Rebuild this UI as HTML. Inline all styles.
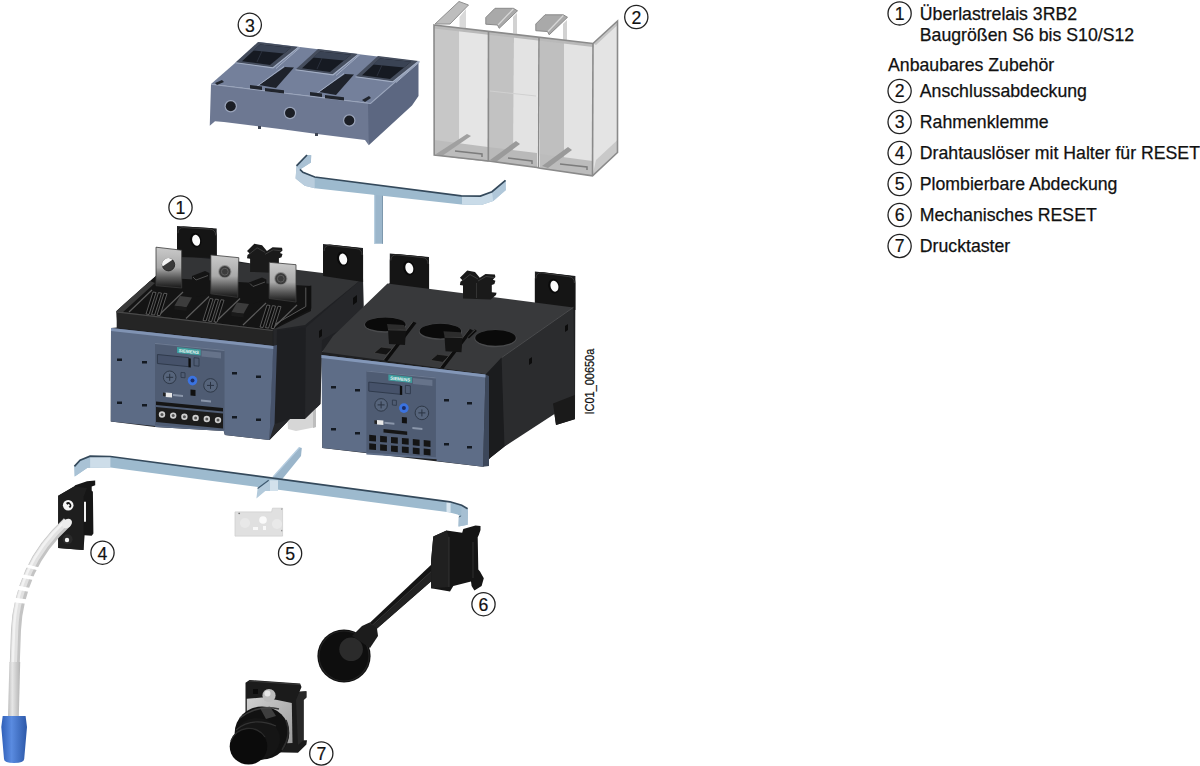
<!DOCTYPE html>
<html><head><meta charset="utf-8">
<style>
html,body{margin:0;padding:0;background:#fff;}
body{width:1200px;height:766px;overflow:hidden;position:relative;}
svg{position:absolute;left:0;top:0;}
.t{font-family:"Liberation Sans",sans-serif;font-size:17.7px;fill:#111;stroke:#111;stroke-width:0.25;}
.n{font-family:"Liberation Sans",sans-serif;font-size:17.7px;fill:#111;stroke:#111;stroke-width:0.2;text-anchor:middle;}
.c{fill:none;stroke:#222;stroke-width:1.3;}
</style></head>
<body>
<svg width="1200" height="766" viewBox="0 0 1200 766">
<defs>
  <linearGradient id="barg" x1="0" y1="0" x2="0" y2="1">
    <stop offset="0" stop-color="#6f93b3"/><stop offset="0.2" stop-color="#a9c6dd"/><stop offset="1" stop-color="#9dbcd5"/>
  </linearGradient>
</defs>

<!-- ============ LEGEND ============ -->
<!--S:legend--><g id="legend">
  <circle class="c" cx="899.6" cy="13.4" r="11.6"/><text class="n" x="899.6" y="19.5">1</text>
  <text class="t" x="919.8" y="19.5">Überlastrelais 3RB2</text>
  <text class="t" x="919.8" y="40.5">Baugrößen S6 bis S10/S12</text>
  <text class="t" x="888" y="70.7">Anbaubares Zubehör</text>
  <circle class="c" cx="899.6" cy="91" r="11.6"/><text class="n" x="899.6" y="97">2</text>
  <text class="t" x="919.8" y="97">Anschlussabdeckung</text>
  <circle class="c" cx="899.6" cy="122" r="11.6"/><text class="n" x="899.6" y="128">3</text>
  <text class="t" x="919.8" y="128">Rahmenklemme</text>
  <circle class="c" cx="899.6" cy="153" r="11.6"/><text class="n" x="899.6" y="159">4</text>
  <text class="t" x="919.8" y="159">Drahtauslöser mit Halter für RESET</text>
  <circle class="c" cx="899.6" cy="184" r="11.6"/><text class="n" x="899.6" y="190">5</text>
  <text class="t" x="919.8" y="190">Plombierbare Abdeckung</text>
  <circle class="c" cx="899.6" cy="215" r="11.6"/><text class="n" x="899.6" y="221">6</text>
  <text class="t" x="919.8" y="221">Mechanisches RESET</text>
  <circle class="c" cx="899.6" cy="246" r="11.6"/><text class="n" x="899.6" y="252">7</text>
  <text class="t" x="919.8" y="252">Drucktaster</text>
</g><!--E:legend-->

<!-- ============ ITEM 3 Rahmenklemme ============ -->
<!--S:item3--><g id="item3">
  <polygon points="211,84 370.5,103.2 418.5,61.6 259,42" fill="#74809b"/>
  <polygon points="211,84 370.5,103.2 368.75,145.25 365,140 317,134 284,129.5 260,126.5 224,122 215,121.25 209.75,125.75" fill="#6d7892"/>
  <polygon points="368,104 370.5,103.2 418.5,61.6 418.5,96 412,105.4 368.75,145.25" fill="#5c6781"/>
  <polyline points="211,84.3 370.5,103.5 418.5,61.9" fill="none" stroke="#9aa5bc" stroke-width="1.1"/>
  <polygon points="258.0,42.0 298.5,47.0 273.0,67.5 235.5,62.5" fill="#454d5d"/>
  <polygon points="260.0,44.5 291.0,47.8 270.0,65.0 242.0,61.2" fill="#161a22"/>
  <polygon points="260.0,44.5 291.0,47.8 284.0,53.5 253.0,50.5" fill="#3a4354"/>
  <line x1="262" y1="51" x2="257" y2="62" stroke="#2e3542" stroke-width="0.8"/>
  <polyline points="300.0,47.5 276.0,68.5" fill="none" stroke="#a3aec4" stroke-width="1"/>
  <polyline points="235.5,62.8 273.0,67.8 298.5,47.3" fill="none" stroke="#a3aec4" stroke-width="1.1"/>
  <polygon points="318.0,49.0 358.5,54.0 333.0,74.5 295.5,69.5" fill="#454d5d"/>
  <polygon points="320.0,51.5 351.0,54.8 330.0,72.0 302.0,68.2" fill="#161a22"/>
  <polygon points="320.0,51.5 351.0,54.8 344.0,60.5 313.0,57.5" fill="#3a4354"/>
  <line x1="322" y1="58" x2="317" y2="69" stroke="#2e3542" stroke-width="0.8"/>
  <polyline points="360.0,54.5 336.0,75.5" fill="none" stroke="#a3aec4" stroke-width="1"/>
  <polyline points="295.5,69.8 333.0,74.8 358.5,54.3" fill="none" stroke="#a3aec4" stroke-width="1.1"/>
  <polygon points="378.0,56.0 418.5,61.0 393.0,81.5 355.5,76.5" fill="#454d5d"/>
  <polygon points="380.0,58.5 411.0,61.8 390.0,79.0 362.0,75.2" fill="#161a22"/>
  <polygon points="380.0,58.5 411.0,61.8 404.0,67.5 373.0,64.5" fill="#3a4354"/>
  <line x1="382" y1="65" x2="377" y2="76" stroke="#2e3542" stroke-width="0.8"/>
  <polyline points="420.0,61.5 396.0,82.5" fill="none" stroke="#a3aec4" stroke-width="1"/>
  <polyline points="355.5,76.8 393.0,81.8 418.5,61.3" fill="none" stroke="#a3aec4" stroke-width="1.1"/>
  <polygon points="259.0,85.0 285.0,67.0 294.0,67.5 276.0,88.0" fill="#1e222b"/>
  <line x1="256" y1="87" x2="284" y2="66.5" stroke="#a3aec4" stroke-width="1"/>
  <polygon points="250.0,85.0 262.0,86.5 262.0,90.0 250.0,88.5" fill="#20242c"/>
  <polygon points="265.0,88.0 284.0,90.3 284.0,93.5 265.0,91.2" fill="#20242c"/>
  <polygon points="319.0,92.0 345.0,74.0 354.0,74.5 336.0,95.0" fill="#1e222b"/>
  <line x1="316" y1="94" x2="344" y2="73.5" stroke="#a3aec4" stroke-width="1"/>
  <polygon points="310.0,92.0 322.0,93.5 322.0,97.0 310.0,95.5" fill="#20242c"/>
  <polygon points="325.0,95.0 344.0,97.3 344.0,100.5 325.0,98.2" fill="#20242c"/>
  <polygon points="215,83 222,80 224,82 217,85" fill="#20242c"/>
  <polygon points="362,100 369,96 371,98 365,102" fill="#20242c"/>
  <circle cx="230.75" cy="106.25" r="6.2" fill="#9aa4ba"/><circle cx="230.75" cy="106.25" r="5" fill="#1b1e25"/>
  <circle cx="290" cy="113" r="6.2" fill="#9aa4ba"/><circle cx="290" cy="113" r="5" fill="#1b1e25"/>
  <circle cx="349.25" cy="120.5" r="6.2" fill="#9aa4ba"/><circle cx="349.25" cy="120.5" r="5" fill="#1b1e25"/>
  <g fill="#3e4554"><rect x="258" y="126" width="3" height="3"/><rect x="315" y="133" width="3" height="3"/></g>
</g><!--E:item3-->

<!-- ============ ITEM 2 cover ============ -->
<!--S:item2--><g id="item2">
  <!-- flaps -->
  <polygon points="435,24 459,1.5 468.5,5 450,24" fill="#bdbdbd" stroke="#8e8e8e" stroke-width="1"/>
  <polygon points="459.5,17 466,9 466,28 459.5,27" fill="#d9d9d9"/>
  <polygon points="485.8,17.5 495,8.3 513.3,8.3 517.5,10.8 499.2,28.3 497.5,25 485.8,24.2" fill="#a9a9a9" stroke="#8a8a8a" stroke-width="1"/>
  <line x1="513.3" y1="9" x2="498" y2="25" stroke="#d8d8d8" stroke-width="1.2"/>
  <polygon points="513,17 517,13 517,34 513,33" fill="#d2d2d2"/>
  <polygon points="535.8,24 545,14.8 563.3,14.8 567.5,17.3 549.2,34.8 547.5,31.5 535.8,30.7" fill="#a9a9a9" stroke="#8a8a8a" stroke-width="1"/>
  <line x1="563.3" y1="15.5" x2="548" y2="31.5" stroke="#d8d8d8" stroke-width="1.2"/>
  <polygon points="563,24 567,20 567,41 563,40" fill="#d2d2d2"/>
  <!-- right face -->
  <polygon points="593,43.5 617.5,21 617.5,152.5 592.5,175.8" fill="#e4e4e4"/>
  <polygon points="593,43.5 617.5,21 617.5,25 596,45" fill="#c4c4c4"/>
  <polygon points="596,160 617.5,140 617.5,152.5 592.5,175.8" fill="#c9c9c9"/>
  <!-- columns -->
  <polygon points="434,25 459.5,28 459.5,158.5 434.2,155" fill="#c7c7c7"/>
  <polygon points="459.5,28 489,31.5 488,161.7 459.5,158.5" fill="#e5e5e5"/>
  <polygon points="489,31.5 514,34.5 513.5,164.5 488.5,161" fill="#c2c2c2"/>
  <polygon points="514,34.5 538.5,37.5 537,167.5 513.5,164.5" fill="#e3e3e3"/>
  <polygon points="539.5,37.5 564,40.5 564,171 540,168.3" fill="#bfbfbf"/>
  <polygon points="564,40.5 593,43.5 592.5,175.8 564,171" fill="#e3e3e3"/>
  <!-- top band -->
  <polygon points="434,25 593,43.5 593,47 434,28.5" fill="#b9b9b9"/>
  <!-- bottom trays -->
  <polygon points="434.2,140 488,147 488,161.7 434.2,155" fill="#bcbcbc"/>
  <polygon points="488.5,147 537,153 537,167.5 488.5,161" fill="#b9b9b9"/>
  <polygon points="540,154 592.5,161 592.5,175.8 540,168.3" fill="#bcbcbc"/>
  <polygon points="436,154 467,134 471,136 442,156" fill="#a0a0a0"/>
  <polygon points="490,160 516,141 520,144 496,162" fill="#9a9a9a"/>
  <polygon points="542,166 568,147 572,150 548,168" fill="#9a9a9a"/>
  <polyline points="455,151 482,154 482,157" fill="none" stroke="#7c7c7c" stroke-width="1.5"/>
  <polyline points="508,158 532,161 532,164" fill="none" stroke="#7c7c7c" stroke-width="1.5"/>
  <polyline points="560,164 587,167 587,170" fill="none" stroke="#7c7c7c" stroke-width="1.5"/>
  <!-- lines -->
  <g fill="none" stroke="#8a8a8a" stroke-width="1.6">
    <polygon points="434,25 593,43.5 617.5,21 617.5,152.5 592.5,175.8 540,168.3 537,167.5 488.5,161 434.2,155"/>
    <line x1="488.5" y1="31" x2="488.3" y2="161.5"/>
    <line x1="539" y1="37" x2="538.5" y2="168"/>
    <line x1="593" y1="43.5" x2="592.5" y2="175.8"/>
  </g>
  <line x1="490" y1="91" x2="536" y2="96" stroke="#d0d0d0" stroke-width="1"/>
</g><!--E:item2-->

<!-- ============ T bar ============ -->
<!--S:tbar--><g id="tbar">
  <polygon points="374.1,192 383,193 383,243.7 374.1,243.7" fill="#9bb6cb"/>
  <line x1="374.6" y1="195" x2="374.6" y2="243.7" stroke="#b8cfe0" stroke-width="1.2"/>
  <line x1="382.5" y1="195" x2="382.5" y2="243.7" stroke="#7d98ad" stroke-width="1"/>
  <polygon points="307,155 311.2,155.3 310.9,162.6 300,169.4 302.9,172.3 314.7,177 461.3,195.8 480.3,196.1 492,191.7 505.5,180.3 505.8,190 493.2,201.1 481.4,205 461.3,204.6 314.7,188.2 304.7,185.8 295.6,178.6 296.5,165.9" fill="#9dbace"/>
  <polygon points="300,169.4 302.9,172.3 314.7,177 314.7,188.2 304.7,185.8 295.6,178.6 296.5,165.9" fill="#b9cddd"/>
  <polygon points="307,155 311.2,155.3 310.9,162.6 300,169.4 296.5,165.9" fill="#a9c1d4"/>
  <polygon points="462,195.8 480.3,196.1 492,191.7 505.5,180.3 505.8,190 493.2,201.1 481.4,205 462,204.6" fill="#c9dbe8"/>
  <polygon points="492,191.7 505.5,180.3 505.8,190 493.2,201.1" fill="#b0c7d9"/>
  <polyline points="307,155 296.5,165.9" fill="none" stroke="#34495b" stroke-width="1.7"/>
  <polyline points="300,169.4 302.9,172.3 314.7,177 461.3,195.8 480.3,196.1 492,191.7 505.5,180.3" fill="none" stroke="#34495b" stroke-width="1.7"/>
</g><!--E:tbar-->

<!-- ============ Left relay ============ -->
<!--S:relayL--><g id="relayL">
  <polygon points="116.7,311.3 154.6,277 177,255 177,226 216.7,228.5 216.7,258 323,275 323,244 363,248 363,316 389,283 322,352 320.4,404 305,419 290,419 269.5,440 224.9,435 223.75,431 155.1,427 110.8,421.5 111,328 116.7,327.5" fill="#202124"/>
  <!-- body top + side -->
  <polygon points="177,255 363,278 305,325 273,330 116.75,311.2 154.6,277.2" fill="#333436"/>
  <polygon points="287,412 316,405 316,427 296,431 288,429" fill="#d6d6d6"/>
  <polygon points="313,406 316,405 316,427 313,428" fill="#bdbdbd"/>
  <polygon points="273.5,330 305.8,327.4 363,278 364,316 322,340 320.4,404 305,419 290,419 269.5,440 274.5,424" fill="#26272a"/>
  <polygon points="277,330 305.8,327.4 305,419 290,419 274.5,424" fill="#1e1f22"/>
  <polygon points="353,298 357,295 357,302 353,305" fill="#0c0c0c"/>
  <polygon points="319,331 322,329 322,336 319,338" fill="#0c0c0c"/>
  
  <!-- tabs -->
  <path d="M177,257 L177,233.2 Q177,226.2 184,226.6 L209.7,228.1 Q216.7,228.5 216.7,235.5 L216.7,258 Z" fill="#151515"/>
  <path d="M178,233.2 Q178,227.2 184,227.6 L209.7,229.1 Q215.7,229.5 215.7,235.5" fill="none" stroke="#3a3a3a" stroke-width="1"/>
  <ellipse cx="195.7" cy="240.2" rx="5.6" ry="7.4" fill="#0a0a0a" transform="rotate(-15 195.7 240.2)"/>
  <ellipse cx="196.1" cy="240.39999999999998" rx="3.9" ry="5.6" fill="#fbfbfb" transform="rotate(-15 195.7 240.2)"/>
  <path d="M323.1,276 L323.1,251.1 Q323.1,244.1 330.1,244.5 L356.1,247.6 Q363.1,248 363.1,255 L363.1,282 Z" fill="#151515"/>
  <path d="M324.1,251.1 Q324.1,245.1 330.1,245.5 L356.1,248.6 Q362.1,249 362.1,255" fill="none" stroke="#3a3a3a" stroke-width="1"/>
  <ellipse cx="342.7" cy="259" rx="5.6" ry="7.4" fill="#0a0a0a" transform="rotate(-15 342.7 259)"/>
  <ellipse cx="343.09999999999997" cy="259.2" rx="3.9" ry="5.6" fill="#fbfbfb" transform="rotate(-15 342.7 259)"/>
  <!-- clip -->
  <polygon points="247.0,251.0 254.3,243.7 262.1,245.2 266.9,251.0 272.6,247.3 282.0,247.8 282.5,250.4 279.9,253.1 282.5,254.1 281.5,257.3 278.9,258.3 278.9,265.6 283.6,266.1 283.1,268.2 277.8,272.9 250.1,271.9 250.1,258.8 247.0,258.3 247.5,255.1 249.6,253.6" fill="#1a1a1a"/>
  <polyline points="249.1,254.3 257.1,247.8 265.1,252.3" fill="none" stroke="#3c3c3c" stroke-width="1"/>
  <polyline points="265.1,254.3 273.1,249.8 281.1,250.8" fill="none" stroke="#3c3c3c" stroke-width="1"/>
  <!-- tray -->
  <polygon points="116.3,311.3 154.6,277.2 311,286 311,311 272.7,330" fill="#141414"/>
  <polygon points="116.3,311.3 124,304 150,281 155,283 122,313" fill="#3a3a3a"/>
  <polygon points="271,325.5 305.8,306 305.8,287 311.3,285.5 311.3,308.5 271,330" fill="#101010"/>
  <polyline points="272,326 305.8,306.5 305.8,287.5" fill="none" stroke="#5a5a5a" stroke-width="1"/>
  <g stroke="#5c5c5c" stroke-width="1.2" fill="none">
    <line x1="129" y1="312.0" x2="152" y2="290.0"/>
    <line x1="158" y1="316.0" x2="183" y2="292.0"/>
    <line x1="186" y1="318.5" x2="209" y2="296.5"/>
    <line x1="215" y1="322.5" x2="240" y2="298.5"/>
    <line x1="243" y1="325.0" x2="266" y2="303.0"/>
    <line x1="272" y1="329.0" x2="297" y2="305.0"/>
  </g>
  <polygon points="146.0,314.0 153.0,292.0 156.0,292.5 149.0,314.5" fill="#0c0c0c" stroke="#6a6a6a" stroke-width="0.8"/>
  <polygon points="151.5,314.6 158.5,292.6 161.5,293.1 154.5,315.1" fill="#0c0c0c" stroke="#6a6a6a" stroke-width="0.8"/>
  <polygon points="157.0,315.2 164.0,293.2 167.0,293.7 160.0,315.7" fill="#0c0c0c" stroke="#6a6a6a" stroke-width="0.8"/>
  <polygon points="203.0,320.5 210.0,298.5 213.0,299.0 206.0,321.0" fill="#0c0c0c" stroke="#6a6a6a" stroke-width="0.8"/>
  <polygon points="208.5,321.1 215.5,299.1 218.5,299.6 211.5,321.6" fill="#0c0c0c" stroke="#6a6a6a" stroke-width="0.8"/>
  <polygon points="214.0,321.7 221.0,299.7 224.0,300.2 217.0,322.2" fill="#0c0c0c" stroke="#6a6a6a" stroke-width="0.8"/>
  <polygon points="260.0,327.0 267.0,305.0 270.0,305.5 263.0,327.5" fill="#0c0c0c" stroke="#6a6a6a" stroke-width="0.8"/>
  <polygon points="265.5,327.6 272.5,305.6 275.5,306.1 268.5,328.1" fill="#0c0c0c" stroke="#6a6a6a" stroke-width="0.8"/>
  <polygon points="271.0,328.2 278.0,306.2 281.0,306.7 274.0,328.7" fill="#0c0c0c" stroke="#6a6a6a" stroke-width="0.8"/>
  <polygon points="174.4,305.8 180,296.0 192,297.5 186.5,307.3" fill="#3c3c3c"/>
  <polygon points="174.4,305.8 186.5,307.3 186.5,311.0 174.4,309.5" fill="#1a1a1a"/>
  <polygon points="192.0,276.0 205.0,271.0 209.4,273.0 209.4,294.0 196.0,297.0 192.0,295.0" fill="#141414"/><polyline points="193.0,277.0 196.0,280.0 208.0,275.5" fill="none" stroke="#555" stroke-width="0.9"/>
  <polygon points="231.4,312.3 237,302.5 249,304.0 243.5,313.8" fill="#3c3c3c"/>
  <polygon points="231.4,312.3 243.5,313.8 243.5,317.5 231.4,316.0" fill="#1a1a1a"/>
  <polygon points="249.0,282.5 262.0,277.5 266.4,279.5 266.4,300.5 253.0,303.5 249.0,301.5" fill="#141414"/><polyline points="250.0,283.5 253.0,286.5 265.0,282.0" fill="none" stroke="#555" stroke-width="0.9"/>
  <polygon points="116.3,311.3 272.7,330 272.7,345 117.5,327.7" fill="#252525"/>
  <line x1="116.3" y1="311.8" x2="272.7" y2="330.5" stroke="#4a4a4a" stroke-width="1.2"/>
  <!-- plates -->
  <defs>
    <linearGradient id="plg" x1="0" y1="0" x2="0" y2="1">
      <stop offset="0" stop-color="#cacaca"/><stop offset="0.5" stop-color="#a9a9a9"/><stop offset="0.75" stop-color="#5a5a5a"/><stop offset="1" stop-color="#161616"/>
    </linearGradient>
  </defs>
  <polygon points="156,247.2 181.7,250.2 181.7,288 156,285.7" fill="url(#plg)" stroke="#3a3a3a" stroke-width="0.8"/>
  <circle cx="168.5" cy="264.7" r="6.2" fill="#3a3a3a" stroke="#1a1a1a" stroke-width="0.8"/><path d="M162.5,266.5 A6.2,6.2 0 0 1 172.5,259.8 Z" fill="#f4f4f4"/>
  <polygon points="210.8,254.9 238.8,257.7 237.7,297.3 210.8,293.8" fill="url(#plg)" stroke="#3a3a3a" stroke-width="0.8"/>
  <circle cx="224.8" cy="271.7" r="6.6" fill="#8a8a8a"/><circle cx="224.8" cy="271.7" r="5.6" fill="#3c3c3c"/><circle cx="224.8" cy="271.7" r="3.4" fill="none" stroke="#5e5e5e" stroke-width="1"/>
  <polygon points="269.2,262.3 296,264.7 296,302 269.2,298.5" fill="url(#plg)" stroke="#3a3a3a" stroke-width="0.8"/>
  <circle cx="280.8" cy="278.7" r="6.6" fill="#8a8a8a"/><circle cx="280.8" cy="278.7" r="5.6" fill="#3c3c3c"/><circle cx="280.8" cy="278.7" r="3.4" fill="none" stroke="#5e5e5e" stroke-width="1"/>
  <!-- blue front -->
  <polygon points="272.8,346 277,345 274.5,424 269.5,440" fill="#46526a"/>
  <polygon points="111,328 273.3,346 269.5,440 224.9,435 223.75,431 155.1,427 155.1,426 110.8,421.5" fill="#5c6b85"/>
  <polygon points="111,328 273.3,346 273.3,349 111,331" fill="#8093b3"/>
  <!--MODL-->
  <polygon points="155.0,342.8 224.5,349.8 224.5,430.2 155.0,425.3" fill="#4f5c73"/>
  <polygon points="155.0,342.8 224.5,349.8 224.5,350.9 155.0,344.0" fill="#6a7890"/>
  <polygon points="177.0,347.0 200.7,349.4 200.7,355.4 177.0,353.0" fill="#3f9c9c"/>
  <text x="0" y="0" transform="translate(178.5,352.1) rotate(5.7)" style="font-family:'Liberation Sans',sans-serif;font-size:4.5px;fill:#e8f4f4;font-weight:bold">SIEMENS</text>
  <polygon points="201.5,350.4 221.0,352.4 221.0,358.4 201.5,356.4" fill="#66738a"/>
  <polygon points="157.4,354.5 189.0,357.7 189.0,366.7 157.4,363.5" fill="#46526a" stroke="#2f3a4c" stroke-width="1"/>
  <polygon points="188.5,358.2 190.8,358.4 190.8,367.4 188.5,367.2" fill="#0e0e0e"/>
  <polygon points="194.0,357.7 199.0,358.2 199.0,366.2 194.0,365.7" fill="none" stroke="#2f3a4c" stroke-width="0.9"/>
  <polygon points="181.0,372.4 185.0,372.8 185.0,377.8 181.0,377.4" fill="none" stroke="#2f3a4c" stroke-width="0.9"/>
  <circle cx="169.7" cy="377.3" r="6.3" fill="#56647b" stroke="#2e3847" stroke-width="1"/>
  <path d="M166.2,377.3 H173.2 M169.7,373.8 V380.8" stroke="#2a3342" stroke-width="1"/>
  <circle cx="210.5" cy="385.4" r="6.8" fill="#56647b" stroke="#2e3847" stroke-width="1"/>
  <path d="M207.0,385.4 H214.0 M210.5,381.9 V388.9" stroke="#2a3342" stroke-width="1"/>
  <circle cx="192.5" cy="380.6" r="4.8" fill="#3b73e0"/><circle cx="192.5" cy="380.6" r="2" fill="#1b2d66"/>
  <polygon points="190.5,389.4 195.5,389.9 195.5,395.9 190.5,395.4" fill="#111"/>
  <polygon points="165.6,392.4 172.0,393.0 172.0,397.5 165.6,396.9" fill="#e8e8e8"/>
  <polygon points="163.0,392.6 165.6,392.9 165.6,396.4 163.0,396.1" fill="#222"/>
  <polygon points="173.0,394.1 183.0,395.1 183.0,397.1 173.0,396.1" fill="#8a96aa"/>
  <polygon points="201.0,399.4 211.0,400.4 211.0,402.4 201.0,401.4" fill="#8a96aa"/>
  <polygon points="156.0,401.4 223.0,408.1 223.0,411.6 156.0,404.9" fill="#151515"/>
  <polygon points="156.0,406.9 223.0,413.6 223.0,428.6 156.0,421.9" fill="#1c1c1c"/>
  <circle cx="162.0" cy="414.5" r="3.2" fill="#cfcfcf"/><circle cx="162.0" cy="414.5" r="1.5" fill="#555"/>
  <circle cx="173.2" cy="415.6" r="3.2" fill="#cfcfcf"/><circle cx="173.2" cy="415.6" r="1.5" fill="#555"/>
  <circle cx="184.4" cy="416.7" r="3.2" fill="#cfcfcf"/><circle cx="184.4" cy="416.7" r="1.5" fill="#555"/>
  <circle cx="195.6" cy="417.9" r="3.2" fill="#cfcfcf"/><circle cx="195.6" cy="417.9" r="1.5" fill="#555"/>
  <circle cx="206.8" cy="419.0" r="3.2" fill="#cfcfcf"/><circle cx="206.8" cy="419.0" r="1.5" fill="#555"/>
  <circle cx="218.0" cy="420.1" r="3.2" fill="#cfcfcf"/><circle cx="218.0" cy="420.1" r="1.5" fill="#555"/>
  <!--/MODL-->
  <g fill="#141a22">
    <rect x="117" y="358.5" width="5" height="2.5"/><rect x="142" y="361" width="5" height="2.5"/>
    <rect x="117" y="401.5" width="5" height="2.5"/><rect x="142" y="404" width="5" height="2.5"/>
    <rect x="232" y="372" width="5" height="2.5"/><rect x="256" y="375.5" width="5" height="2.5"/>
    <rect x="232" y="416" width="5" height="2.5"/><rect x="256" y="418.5" width="5" height="2.5"/>
  </g>
</g><!--E:relayL-->

<!-- ============ Right relay ============ -->
<!--S:relayR--><g id="relayR">
  <polygon points="322,352 389.8,283 389.8,253.5 429,257 429,290 534.9,305 534.9,271.5 575.4,276 575,419 556,425 553,404 504.5,446.6 490,458 483,466.7 322.3,447.9" fill="#1f2022"/>
  <!-- tabs -->
  <path d="M389.8,286 L389.8,260.5 Q389.8,253.5 396.8,253.9 L422.1,256.5 Q429.1,256.9 429.1,263.9 L429.1,290 Z" fill="#151515"/>
  <path d="M390.8,260.5 Q390.8,254.5 396.8,254.9 L422.1,257.5 Q428.1,257.9 428.1,263.9" fill="none" stroke="#3a3a3a" stroke-width="1"/>
  <ellipse cx="408.9" cy="268.1" rx="5.6" ry="7.4" fill="#0a0a0a" transform="rotate(-15 408.9 268.1)"/>
  <ellipse cx="409.29999999999995" cy="268.3" rx="3.9" ry="5.6" fill="#fbfbfb" transform="rotate(-15 408.9 268.1)"/>
  <path d="M534.9,305 L534.9,278.5 Q534.9,271.5 541.9,271.9 L568.4,275.6 Q575.4,276 575.4,283 L575.4,310 Z" fill="#151515"/>
  <path d="M535.9,278.5 Q535.9,272.5 541.9,272.9 L568.4,276.6 Q574.4,277 574.4,283" fill="none" stroke="#3a3a3a" stroke-width="1"/>
  <ellipse cx="554" cy="286.1" rx="5.6" ry="7.4" fill="#0a0a0a" transform="rotate(-15 554 286.1)"/>
  <ellipse cx="554.4" cy="286.3" rx="3.9" ry="5.6" fill="#fbfbfb" transform="rotate(-15 554 286.1)"/>
  <!-- top face -->
  <polygon points="322,352 333,336 387.5,283.5 573.4,307.4 501.6,357.6 488,374.5" fill="#38393b"/>
  <!-- side face -->
  <polygon points="485.5,374.5 501.6,357.6 504.5,446.6 490,458 483,466.7" fill="#1b1c1e"/>
  <polygon points="501.6,357.6 573.4,307.4 574.8,400.7 504.5,446.6" fill="#2b2c2e"/>
  <line x1="501.6" y1="357.6" x2="573.4" y2="307.4" stroke="#4a4b4d" stroke-width="1"/>
  <polygon points="553,403.6 574.8,395 574.8,419.3 556,425" fill="#1a1a1a"/>
  <polygon points="565,326 568,324 568,330 565,332" fill="#0c0c0c"/>
  <polygon points="529,359 532,357 532,363 529,365" fill="#0c0c0c"/>
  <!-- clip -->
  <polygon points="459.9,277.7 467.2,270.4 475.0,271.9 479.8,277.7 485.5,274.0 494.9,274.5 495.4,277.1 492.8,279.8 495.4,280.8 494.4,284.0 491.8,285.0 491.8,292.3 496.5,292.8 496.0,294.9 490.7,299.6 463.0,298.6 463.0,285.5 459.9,285.0 460.4,281.8 462.5,280.3" fill="#1a1a1a"/>
  <polyline points="462,281 470,274.5 478,279" fill="none" stroke="#3c3c3c" stroke-width="1"/>
  <polyline points="478,281 486,276.5 494,277.5" fill="none" stroke="#3c3c3c" stroke-width="1"/>
  <line x1="476.5" y1="283" x2="476.5" y2="298" stroke="#333" stroke-width="1"/>
  <!-- holes -->
  <ellipse cx="385.3" cy="325.0" rx="21.1" ry="7.7" fill="#4a4b4d"/>
  <ellipse cx="385.3" cy="324.4" rx="20.3" ry="6.9" fill="#0a0a0a"/>
  <ellipse cx="440.4" cy="331.70000000000005" rx="21.6" ry="8.1" fill="#4a4b4d"/>
  <ellipse cx="440.4" cy="331.1" rx="20.8" ry="7.3" fill="#0a0a0a"/>
  <ellipse cx="495.5" cy="338.5" rx="21.1" ry="8.700000000000001" fill="#4a4b4d"/>
  <ellipse cx="495.5" cy="337.9" rx="20.3" ry="7.9" fill="#0a0a0a"/>
  <!-- latches -->
  <polygon points="374.0,353.0 381.0,347.0 393.0,348.5 386.0,355.0" fill="#141414" stroke="#444" stroke-width="0.7"/>
  <polygon points="383.5,360.0 413.0,321.5 416.5,323.0 387.0,361.5" fill="#0d0d0d"/>
  <line x1="383.5" y1="360.0" x2="413.0" y2="321.5" stroke="#4e4e4e" stroke-width="0.8"/>
  <polygon points="388.0,329.5 406.0,330.0 405.0,345.0 389.0,344.0" fill="#131313"/>
  <polygon points="387.0,324.0 404.0,325.0 406.0,330.0 388.0,329.5" fill="#2c2c2c"/>
  <line x1="388.0" y1="329.8" x2="406.0" y2="330.3" stroke="#4a4a4a" stroke-width="0.7"/>
  <polygon points="430.5,360.3 437.5,354.3 449.5,355.8 442.5,362.3" fill="#141414" stroke="#444" stroke-width="0.7"/>
  <polygon points="440.0,367.3 469.5,328.8 473.0,330.3 443.5,368.8" fill="#0d0d0d"/>
  <line x1="440.0" y1="367.3" x2="469.5" y2="328.8" stroke="#4e4e4e" stroke-width="0.8"/>
  <polygon points="444.5,336.8 462.5,337.3 461.5,352.3 445.5,351.3" fill="#131313"/>
  <polygon points="443.5,331.3 460.5,332.3 462.5,337.3 444.5,336.8" fill="#2c2c2c"/>
  <line x1="444.5" y1="337.1" x2="462.5" y2="337.6" stroke="#4a4a4a" stroke-width="0.7"/>
  <line x1="468" y1="337.5" x2="476" y2="330" stroke="#0d0d0d" stroke-width="2.6"/>
  <line x1="467.5" y1="337" x2="475.5" y2="329.5" stroke="#4e4e4e" stroke-width="0.7"/>
  <!-- blue face -->
  <polygon points="485.5,374.5 489,376 489,466 483,466.7" fill="#3c475a"/>
  <polygon points="321.5,354.9 485.5,374.5 483,466.7 436.6,461 436.6,459.3 366.4,454.4 366.4,452.8 322.3,447.9" fill="#5e6d87"/>
  <polygon points="321.5,354.9 485.5,374.5 485.5,377.5 321.5,358" fill="#8397b8"/>
  <!--MODR-->
  <polygon points="366.4,370.4 435.9,377.3 435.9,457.3 366.4,452.4" fill="#4f5c73"/>
  <polygon points="366.4,370.4 435.9,377.3 435.9,378.5 366.4,371.6" fill="#6a7890"/>
  <polygon points="388.4,374.6 412.1,377.0 412.1,383.0 388.4,380.6" fill="#3f9c9c"/>
  <text x="0" y="0" transform="translate(389.9,379.6) rotate(5.7)" style="font-family:'Liberation Sans',sans-serif;font-size:4.5px;fill:#e8f4f4;font-weight:bold">SIEMENS</text>
  <polygon points="412.9,378.0 432.4,380.0 432.4,386.0 412.9,384.0" fill="#66738a"/>
  <polygon points="368.8,382.1 400.4,385.3 400.4,394.3 368.8,391.1" fill="#46526a" stroke="#2f3a4c" stroke-width="1"/>
  <polygon points="399.9,385.8 402.2,386.0 402.2,395.0 399.9,394.8" fill="#0e0e0e"/>
  <polygon points="405.4,385.3 410.4,385.8 410.4,393.8 405.4,393.3" fill="none" stroke="#2f3a4c" stroke-width="0.9"/>
  <polygon points="392.4,400.0 396.4,400.4 396.4,405.4 392.4,405.0" fill="none" stroke="#2f3a4c" stroke-width="0.9"/>
  <circle cx="381.1" cy="404.9" r="6.3" fill="#56647b" stroke="#2e3847" stroke-width="1"/>
  <path d="M377.6,404.9 H384.6 M381.1,401.4 V408.4" stroke="#2a3342" stroke-width="1"/>
  <circle cx="421.9" cy="412.9" r="6.8" fill="#56647b" stroke="#2e3847" stroke-width="1"/>
  <path d="M418.4,412.9 H425.4 M421.9,409.4 V416.4" stroke="#2a3342" stroke-width="1"/>
  <circle cx="403.9" cy="408.1" r="4.8" fill="#3b73e0"/><circle cx="403.9" cy="408.1" r="2" fill="#1b2d66"/>
  <polygon points="401.9,416.9 406.9,417.4 406.9,423.4 401.9,422.9" fill="#111"/>
  <polygon points="377.0,420.0 383.4,420.6 383.4,425.1 377.0,424.5" fill="#e8e8e8"/>
  <polygon points="374.4,420.2 377.0,420.5 377.0,424.0 374.4,423.7" fill="#222"/>
  <polygon points="384.4,421.7 394.4,422.7 394.4,424.7 384.4,423.7" fill="#8a96aa"/>
  <polygon points="412.4,427.0 422.4,428.0 422.4,430.0 412.4,429.0" fill="#8a96aa"/>
  <polygon points="383.5,429.1 407.2,431.5 407.2,435.0 383.5,432.6" fill="#161616"/>
  <polygon points="369.2,434.7 376.0,435.4 376.0,441.6 369.2,440.9" fill="#141414"/>
  <polygon points="380.1,435.8 386.9,436.4 386.9,442.6 380.1,442.0" fill="#141414"/>
  <polygon points="391.0,436.9 397.8,437.5 397.8,443.7 391.0,443.1" fill="#141414"/>
  <polygon points="401.9,437.9 408.7,438.6 408.7,444.8 401.9,444.1" fill="#141414"/>
  <polygon points="412.8,439.0 419.6,439.7 419.6,445.9 412.8,445.2" fill="#141414"/>
  <polygon points="423.7,440.1 430.5,440.8 430.5,447.0 423.7,446.3" fill="#141414"/>
  <polygon points="369.2,443.2 376.0,443.9 376.0,450.1 369.2,449.4" fill="#141414"/>
  <polygon points="380.1,444.3 386.9,444.9 386.9,451.1 380.1,450.5" fill="#141414"/>
  <polygon points="391.0,445.4 397.8,446.0 397.8,452.2 391.0,451.6" fill="#141414"/>
  <polygon points="401.9,446.4 408.7,447.1 408.7,453.3 401.9,452.6" fill="#141414"/>
  <polygon points="412.8,447.5 419.6,448.2 419.6,454.4 412.8,453.7" fill="#141414"/>
  <polygon points="423.7,448.6 430.5,449.3 430.5,455.5 423.7,454.8" fill="#141414"/>
  <!--/MODR-->
  <g fill="#141a22">
    <rect x="331" y="386" width="5" height="2.5"/><rect x="355" y="389" width="5" height="2.5"/>
    <rect x="331" y="428" width="5" height="2.5"/><rect x="355" y="432" width="5" height="2.5"/>
    <rect x="444" y="399" width="5" height="2.5"/><rect x="467" y="402" width="5" height="2.5"/>
    <rect x="444" y="443" width="5" height="2.5"/><rect x="467" y="446" width="5" height="2.5"/>
  </g>
</g><!--E:relayR-->

<!-- ============ Label ============ -->
<text transform="translate(593.9,414.5) rotate(-90) scale(0.87,1)" style="font-family:'Liberation Sans',sans-serif;font-size:12.6px;fill:#111;stroke:#111;stroke-width:0.25">IC01_00650a</text>

<!-- ============ bottom bar ============ -->
<!--S:bbar--><g id="bbar">
  <polygon points="272.5,477.4 299.2,447.2 301.8,448.1 301,456.1 282.3,479" fill="#9ab5ca"/>
  <line x1="273" y1="477" x2="299.5" y2="447.5" stroke="#b6cde0" stroke-width="1.2"/>
  <polygon points="74.4,466.4 80.1,460.1 90.1,456.2 110.4,456.5 450,501.8 461.7,505.3 467.6,508.8 467.9,512.3 467.6,524.7 458.5,526.4 458.8,518 461.1,516.9 457.6,514.5 448.8,512.3 110.4,467.6 87.5,467.8 74.7,476.5" fill="#9dbace"/>
  <polygon points="74.4,466.4 80.1,460.1 90.1,456.2 90.1,467.8 87.5,467.8 74.7,476.5" fill="#a9c2d5"/>
  <polygon points="90.1,456.2 110.4,456.5 110.4,467.6 90.1,467.8" fill="#cddde9"/>
  <polygon points="446.5,501.3 450.6,501.9 450.6,512.6 446.5,512" fill="#d8e6f0"/>
  <polygon points="461.7,505.3 467.6,508.8 467.9,512.3 467.6,524.7 458.5,526.4 458.8,517 461.1,515.9" fill="#a6bfd2"/>
  <polygon points="257.6,488.4 268.7,480.3 278,480.3 278,491 265.3,491 256.4,498.6" fill="#b3cadb"/>
  <polygon points="270,480.3 278,480.3 278,491 270,491" fill="#d2e1ec"/>
  <polyline points="74.4,466.4 80.1,460.1 90.1,456.2 110.4,456.5 450,501.8 461.7,505.3 467.6,508.8" fill="none" stroke="#34495b" stroke-width="1.7"/>
  <polyline points="257.6,488.4 268.7,480.3" fill="none" stroke="#3f5a70" stroke-width="1.2"/>
  <polyline points="461.1,515.9 458.8,517" fill="none" stroke="#3f5a70" stroke-width="1"/>
</g><!--E:bbar-->

<!-- ============ Item 4 ============ -->
<!--S:item4--><g id="item4">
  <defs>
    <linearGradient id="cabg" x1="0" y1="0" x2="1" y2="0">
      <stop offset="0" stop-color="#bdbdbd"/><stop offset="0.35" stop-color="#e6e6e6"/><stop offset="1" stop-color="#b4b4b4"/>
    </linearGradient>
    <linearGradient id="blug" x1="0" y1="0" x2="1" y2="0">
      <stop offset="0" stop-color="#2f5fb8"/><stop offset="0.4" stop-color="#5a8be0"/><stop offset="1" stop-color="#2c58a8"/>
    </linearGradient>
  </defs>
  <!-- holder -->
  <polygon points="58.2,495.8 74.1,486.4 75.2,485.3 87,481.2 95.2,480.6 95.2,485.3 91.7,486.4 91.7,490.6 92.9,491.7 93.4,533.4 91.7,535.8 84.6,535.2 83.5,549.9 58.2,548.1" fill="#161616"/>
  <polygon points="58.2,495.8 74.1,486.4 87,488 83.5,497 83.5,549.9 58.2,548.1" fill="#1e1e1e"/>
  <polygon points="84,501.7 86,501.7 86,521.7 84,521.7" fill="#f0f0f0"/>
  <circle cx="68.2" cy="505.2" r="5.3" fill="#f4f4f4"/>
  <path d="M66,503 a3,3 0 1 1 4,5 l-1.5,-1.5 a1.2,1.2 0 1 0 -1,-1.5 z" fill="#111"/>
  <circle cx="67.6" cy="539.3" r="5" fill="#2a2a2a"/><circle cx="67" cy="540" r="2.2" fill="#f4f4f4"/>
  <!-- cable upper (curved) -->
  <path d="M67.3,522 C52,536 40,550 30,572 C23,588 17,605 16,630 L14.8,663" fill="none" stroke="#c4c4c4" stroke-width="10"/>
  <path d="M66.3,521.5 C51,535.5 39,549.5 29,571.5 C22,587.5 16,604.5 15,630 L13.8,663" fill="none" stroke="#e2e2e2" stroke-width="6.5"/>
  <path d="M65,521 C50,535 38,549 28,571 C21,587 15,604 14,630 L12.8,663" fill="none" stroke="#f2f2f2" stroke-width="2.5"/>
  <ellipse cx="67" cy="523.5" rx="5.5" ry="4.2" fill="#ececec" transform="rotate(-40 67 523.5)"/>
  <!-- stripes -->
  <g stroke="#ffffff">
    <line x1="25" y1="565.5" x2="41" y2="569.5" stroke-width="3"/>
    <line x1="19" y1="575.5" x2="35" y2="578.5" stroke-width="3.5"/>
    <line x1="14" y1="587" x2="30" y2="590" stroke-width="4"/>
    <line x1="10" y1="599.5" x2="26" y2="601.5" stroke-width="4.5"/>
  </g>
  <!-- lower sleeve -->
  <polygon points="9.4,662 20.2,662 18.8,717 8,717" fill="url(#cabg)"/>
  <!-- blue end -->
  <path d="M2.7,716 L25.6,716 L27,727 L24.2,759 Q24,763 14,763 Q4,763 4,759 L1.3,727 Z" fill="url(#blug)"/>
</g><!--E:item4-->

<!-- ============ Item 5 ============ -->
<polygon points="235,511.9 271.6,511.9 272.5,508.2 282.6,508.2 282.6,536.1 235,536.1" fill="#e0e0e0"/>
<circle cx="263" cy="520" r="3.8" fill="#fafafa"/>
<circle cx="245" cy="523" r="5" fill="#e8e8e8"/>
<circle cx="277" cy="524" r="5" fill="#e9e9e9"/>
<rect x="253" y="527" width="5" height="3" fill="#f8f8f8"/><rect x="263" y="526" width="3" height="4" fill="#f8f8f8"/>
<circle cx="239.2" cy="513.3" r="0.9" fill="#777"/><circle cx="282" cy="508.8" r="0.9" fill="#888"/><circle cx="282" cy="530.6" r="0.9" fill="#888"/>
<polygon points="235,511.9 271.6,511.9 272.5,508.2 282.6,508.2 282.6,536.1 235,536.1" fill="none" stroke="#cfcfcf" stroke-width="0.8"/>

<!-- ============ Item 6 ============ -->
<!--S:item6--><g id="item6">
  <!-- rod -->
  <polygon points="434.9,561.2 447,567.5 376.5,629 369.6,623.1" fill="#151515"/>
  <polygon points="440,564 447,567.5 376.5,629 372.5,626" fill="#222"/>
  <line x1="439" y1="564.5" x2="372" y2="625.5" stroke="#3a3a3a" stroke-width="0.9"/>
  <!-- cup -->
  <circle cx="344" cy="656" r="26.6" fill="#0e0e0e"/>
  <circle cx="344" cy="656" r="25" fill="none" stroke="#222" stroke-width="1.2"/>
  <circle cx="351.1" cy="649.3" r="11.8" fill="#2b2b2b"/>
  <polygon points="352,636 362,626 369.6,622.5 377,628.5 378,636 370,648" fill="#1c1c1c"/>
  <!-- holder -->
  <polygon points="433.3,536.6 446.6,530.5 462.2,532.8 463.3,528.9 475.5,525.5 480.5,526.1 480.5,530 478.8,535 477.7,537.2 478.3,569.4 480,571.6 483.8,578.2 481.6,586 474.4,590.5 471.6,586 471,581.6 453.3,586 450,591.6 431.1,588.2 431.1,560.5" fill="#151515"/>
  <polygon points="433.3,536.6 446.6,530.5 449,537 449,587 431.1,588.2 431.1,560.5" fill="#202020"/>
  <line x1="449" y1="537" x2="449" y2="587" stroke="#333" stroke-width="1"/>
  <line x1="473" y1="542" x2="473" y2="578" stroke="#2e2e2e" stroke-width="1"/>
</g><!--E:item6-->

<!-- ============ Item 7 ============ -->
<!--S:item7--><g id="item7">
  <defs>
    <linearGradient id="silg" x1="0" y1="0" x2="1" y2="1">
      <stop offset="0" stop-color="#d0d0d0"/><stop offset="1" stop-color="#9a9a9a"/>
    </linearGradient>
    <linearGradient id="cylg" x1="0" y1="0" x2="1" y2="0.3">
      <stop offset="0" stop-color="#151515"/><stop offset="0.45" stop-color="#2e2e2e"/><stop offset="0.6" stop-color="#181818"/><stop offset="1" stop-color="#0e0e0e"/>
    </linearGradient>
  </defs>
  <!-- frame -->
  <polygon points="245.5,682.8 249.6,680 300.1,683.5 301.5,687 299.5,691.8 306.4,691.2 306.4,697.4 303.6,700.1 303.6,740.3 307,740.3 306.4,744.5 298,752.8 262,752 245.5,740" fill="#1b1b1b"/>
  <polygon points="299.5,691.8 306.4,691.2 306.4,697.4 303.6,700.1 303.6,740.3 298,745 296,700" fill="#282828"/>
  <line x1="249" y1="681" x2="300" y2="684.5" stroke="#3a3a3a" stroke-width="1"/>
  <!-- silver plate -->
  <polygon points="246.8,698.8 262,697.4 277.3,700.1 291.8,703 292.5,743 250,745 246.8,720" fill="url(#silg)"/>
  <rect x="253" y="689" width="5" height="5" fill="#0a0a0a"/>
  <circle cx="269" cy="695.5" r="6.6" fill="#bcbcbc"/><circle cx="267.5" cy="693.5" r="3" fill="#e6e6e6"/>
  <!-- button cylinder -->
  <ellipse cx="262" cy="733" rx="27.3" ry="26.5" fill="#111"/>
  <path d="M240,718 Q258,704 279,709" fill="none" stroke="#3a3a3a" stroke-width="1.5"/>
  <polygon points="260,708 270,706.5 276,716 266,719" fill="#4a4a4a" opacity="0.8"/>
  <path d="M286,720 Q292,735 282,750" fill="none" stroke="#2e2e2e" stroke-width="1.5"/>
  <ellipse cx="257" cy="739" rx="23" ry="21" fill="#151515"/>
  <path d="M236,730 Q252,716 276,726" fill="none" stroke="#333" stroke-width="1.2"/>
  <ellipse cx="248.5" cy="746.5" rx="18.8" ry="18" fill="#0b0b0b"/>
  <path d="M231,741 A18.8,18 0 0 1 265,737" fill="none" stroke="#2c2c2c" stroke-width="1.3"/>
</g><!--E:item7-->

<!-- ============ diagram circles ============ -->
<!--S:labels--><g id="labels">
  <circle class="c" cx="249.8" cy="24.8" r="11.6"/><text class="n" x="249.8" y="31.6">3</text>
  <circle class="c" cx="636.3" cy="17" r="11.6"/><text class="n" x="636.3" y="23.8">2</text>
  <circle class="c" cx="180.5" cy="207.5" r="11.6"/><text class="n" x="180.5" y="214.3">1</text>
  <circle class="c" cx="102.5" cy="552.7" r="11.6"/><text class="n" x="102.5" y="559.5">4</text>
  <circle class="c" cx="290.1" cy="553.5" r="11.6"/><text class="n" x="290.1" y="560.3">5</text>
  <circle class="c" cx="483.5" cy="604.2" r="11.6"/><text class="n" x="483.5" y="611.0">6</text>
  <circle class="c" cx="321.3" cy="753.5" r="11.6"/><text class="n" x="321.3" y="760.3">7</text>
</g><!--E:labels-->
</svg>
</body></html>
